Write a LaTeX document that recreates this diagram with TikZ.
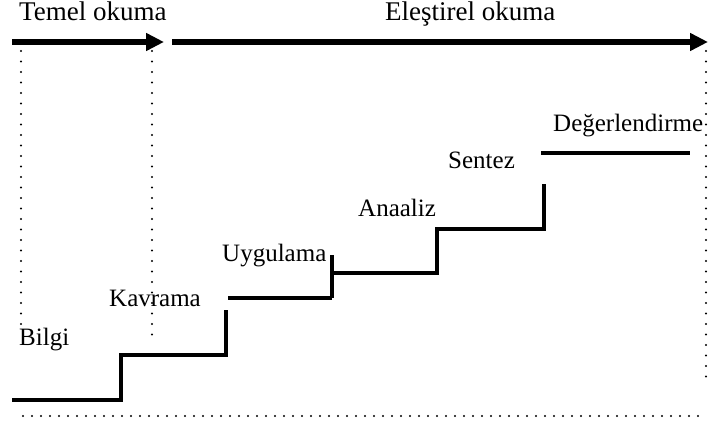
\documentclass[tikz,border=0pt]{standalone}
\usepackage{fontspec}
\setmainfont{Liberation Serif}
\usetikzlibrary{arrows.meta}
\begin{document}
\begin{tikzpicture}[x=1pt,y=-1pt,
  lbl/.style={anchor=base west,inner sep=0pt,font=\fontsize{25}{28}\selectfont},
  ttl/.style={anchor=base west,inner sep=0pt,font=\fontsize{27}{30}\selectfont},
  stair/.style={line width=3.2pt,line cap=butt,line join=miter},
  phase/.style={line width=6pt,-{Triangle[length=18pt,width=17pt]}},
  dots/.style={line width=2.2pt,line cap=round,dash pattern=on 0pt off 10.5pt},
  hdots/.style={line width=2.2pt,line cap=round,dash pattern=on 0pt off 9pt}]
\useasboundingbox (0,0) rectangle (709,422);
% titles
\node[ttl] (temel) at (19,21) {Temel okuma};
\node[ttl] (elest) at (385,21) {Eleştirel okuma};
% phase arrows
\coordinate (a1s) at (12,42); \coordinate (a1e) at (164,42);
\coordinate (a2s) at (172,42); \coordinate (a2e) at (708,42);
\draw[phase] (a1s) -- (a1e);
\draw[phase] (a2s) -- (a2e);
% dotted guides
\coordinate (d1t) at (21,51); \coordinate (d1b) at (21,330);
\coordinate (d2t) at (152,51); \coordinate (d2b) at (152,340);
\coordinate (d3t) at (706,51); \coordinate (d3b) at (706,378);
\coordinate (hb1) at (23,416); \coordinate (hb2) at (705,416);
\draw[dots] (d1t) -- (d1b);
\draw[dots] (d2t) -- (d2b);
\draw[dots] (d3t) -- (d3b);
\draw[hdots] (hb1) -- (hb2);
% staircase
\coordinate (s0) at (12,400);
\coordinate (s1) at (121,400);
\coordinate (s2) at (121,355);
\coordinate (s3) at (226,355);
\coordinate (s4) at (226,310);
\coordinate (s5) at (228,298);
\coordinate (s6) at (332,298);
\coordinate (s6t) at (332,255);
\coordinate (s7) at (332,273);
\coordinate (s8) at (437,273);
\coordinate (s9) at (437,229);
\coordinate (s10) at (544,229);
\coordinate (s11) at (544,184);
\coordinate (s12) at (541,153);
\coordinate (s13) at (690,153);
\draw[stair] (s0) -- (s1) -- (s2) -- (s3) -- (s4);
\draw[stair] (s5) -- (s6);
\draw[stair] (s6t) -- (s6);
\draw[stair] (s7) -- (s8) -- (s9) -- (s10) -- (s11);
\draw[stair] (s12) -- (s13);
% labels
\node[lbl] (bilgi) at (19,345) {Bilgi};
\node[lbl] (kavrama) at (109,306) {Kavrama};
\node[lbl] (uygulama) at (222,261) {Uygulama};
\node[lbl] (analiz) at (358,216) {Anaaliz};
\node[lbl] (sentez) at (448,169) {Sentez};
\node[lbl] (deger) at (553,132) {Değerlendirme};
\end{tikzpicture}
\end{document}
